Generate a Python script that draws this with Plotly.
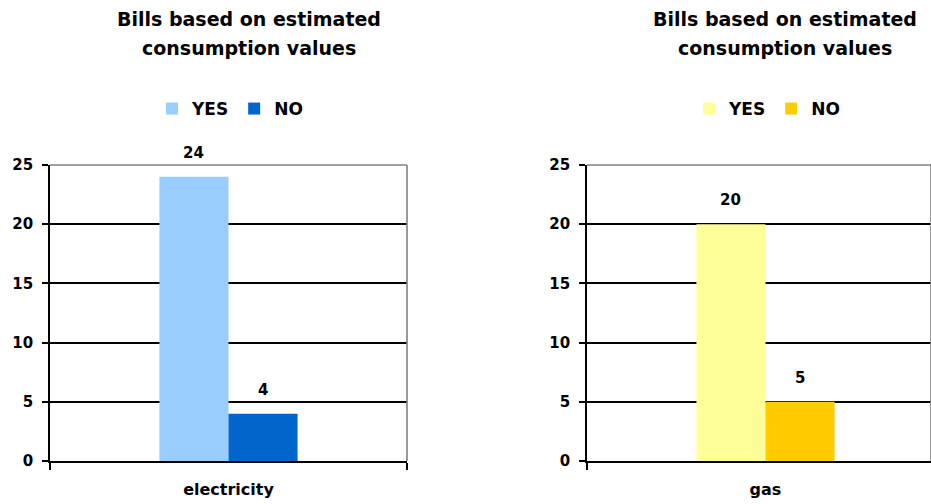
import plotly.graph_objects as go

# Survey answers: was the last bill based on estimated consumption values?
series_names = ["YES", "NO"]
electricity_category = ["electricity"]
electricity_values = [24, 4]
gas_category = ["gas"]
gas_values = [20, 5]

title_lines = ["Bills based on estimated", "consumption values"]
y_ticks = [0, 5, 10, 15, 20, 25]

electricity_colors = ["#99CCFF", "#0066CC"]
gas_colors = ["#FFFF99", "#FFCC00"]

FONT = "DejaVu Sans"
W, H = 931, 504
BARGAP = 0.613

fig = go.Figure()

for name, val, col in zip(series_names, electricity_values, electricity_colors):
    fig.add_trace(go.Bar(
        x=electricity_category, y=[val], name=name, marker=dict(color=col, line=dict(width=0)),
        xaxis="x", yaxis="y", legend="legend", hoverinfo="skip",
    ))
for name, val, col in zip(series_names, gas_values, gas_colors):
    fig.add_trace(go.Bar(
        x=gas_category, y=[val], name=name, marker=dict(color=col, line=dict(width=0)),
        xaxis="x2", yaxis="y2", legend="legend2", hoverinfo="skip",
    ))

# plot-area geometry in pixels
left_x0, left_x1 = 50, 407
right_x0, right_x1 = 587, 931
unit_px = left_x1 - left_x0  # one category slot
y_bottom, y_top = 461, 165
ydom = [(H - y_bottom) / H, (H - y_top) / H]

axis_common = dict(
    showline=True, linecolor="black", linewidth=1.6,
    ticks="outside", tickcolor="black", tickwidth=1.6,
    tickfont=dict(family=FONT, size=16, color="black", weight="bold"),
    fixedrange=True, automargin=False,
)
yaxis_common = dict(
    axis_common, range=[0, 25], tickvals=y_ticks, ticklen=6,
    showgrid=True, gridcolor="black", gridwidth=1.5, zeroline=False,
    tickfont=dict(family=FONT, size=15, color="black", weight="bold"),
    ticklabelstandoff=6,
)
xaxis_common = dict(axis_common, type="category", tickson="boundaries", ticklen=7,
                    showgrid=False, ticklabelstandoff=13)

right_range_end = -0.5 + (right_x1 - right_x0) / unit_px

legend_common = dict(
    orientation="h", yanchor="middle", y=(H - 109) / H, xanchor="center",
    font=dict(family=FONT, size=17, color="black", weight="bold"),
    bgcolor="rgba(0,0,0,0)", itemclick=False, itemdoubleclick=False,
)

fig.update_layout(
    template="none",
    width=W, height=H,
    margin=dict(l=0, r=0, t=0, b=0, autoexpand=False),
    paper_bgcolor="white", plot_bgcolor="white",
    barmode="group", bargap=BARGAP, bargroupgap=0,
    xaxis=dict(xaxis_common, domain=[left_x0 / W, left_x1 / W], range=[-0.5, 0.5], anchor="y"),
    yaxis=dict(yaxis_common, domain=ydom, anchor="x"),
    xaxis2=dict(xaxis_common, domain=[right_x0 / W, 1.0], range=[-0.5, right_range_end], anchor="y2"),
    yaxis2=dict(yaxis_common, domain=ydom, anchor="x2"),
    legend=dict(legend_common, x=230 / W),
    legend2=dict(legend_common, x=767 / W),
    showlegend=True,
)

# gray plot-area border on top and right
for xref, yref in (("x domain", "y domain"), ("x2 domain", "y2 domain")):
    fig.add_shape(type="line", xref=xref, yref=yref, x0=0, x1=1, y0=1, y1=1,
                  line=dict(color="#808080", width=1.6))
    fig.add_shape(type="line", xref=xref, yref=yref, x0=1, x1=1, y0=0, y1=1,
                  line=dict(color="#808080", width=1.6))

# chart titles
for cx in (249, 785):
    for line, cy in zip(title_lines, (19, 48)):
        fig.add_annotation(
            text=line, xref="paper", yref="paper", x=cx / W, y=(H - cy) / H,
            xanchor="center", yanchor="middle", showarrow=False,
            font=dict(family=FONT, size=19, color="black", weight="bold"),
        )

# value labels above each bar
offset = (1 - BARGAP) / 4
for xa, ya, values in (("x", "y", electricity_values), ("x2", "y2", gas_values)):
    for i, v in enumerate(values):
        fig.add_annotation(
            text=str(v), xref=xa, yref=ya, x=(-offset if i == 0 else offset), y=v,
            xanchor="center", yanchor="middle", yshift=24, showarrow=False,
            font=dict(family=FONT, size=15, color="black", weight="bold"),
        )

fig.write_html("out.html")
